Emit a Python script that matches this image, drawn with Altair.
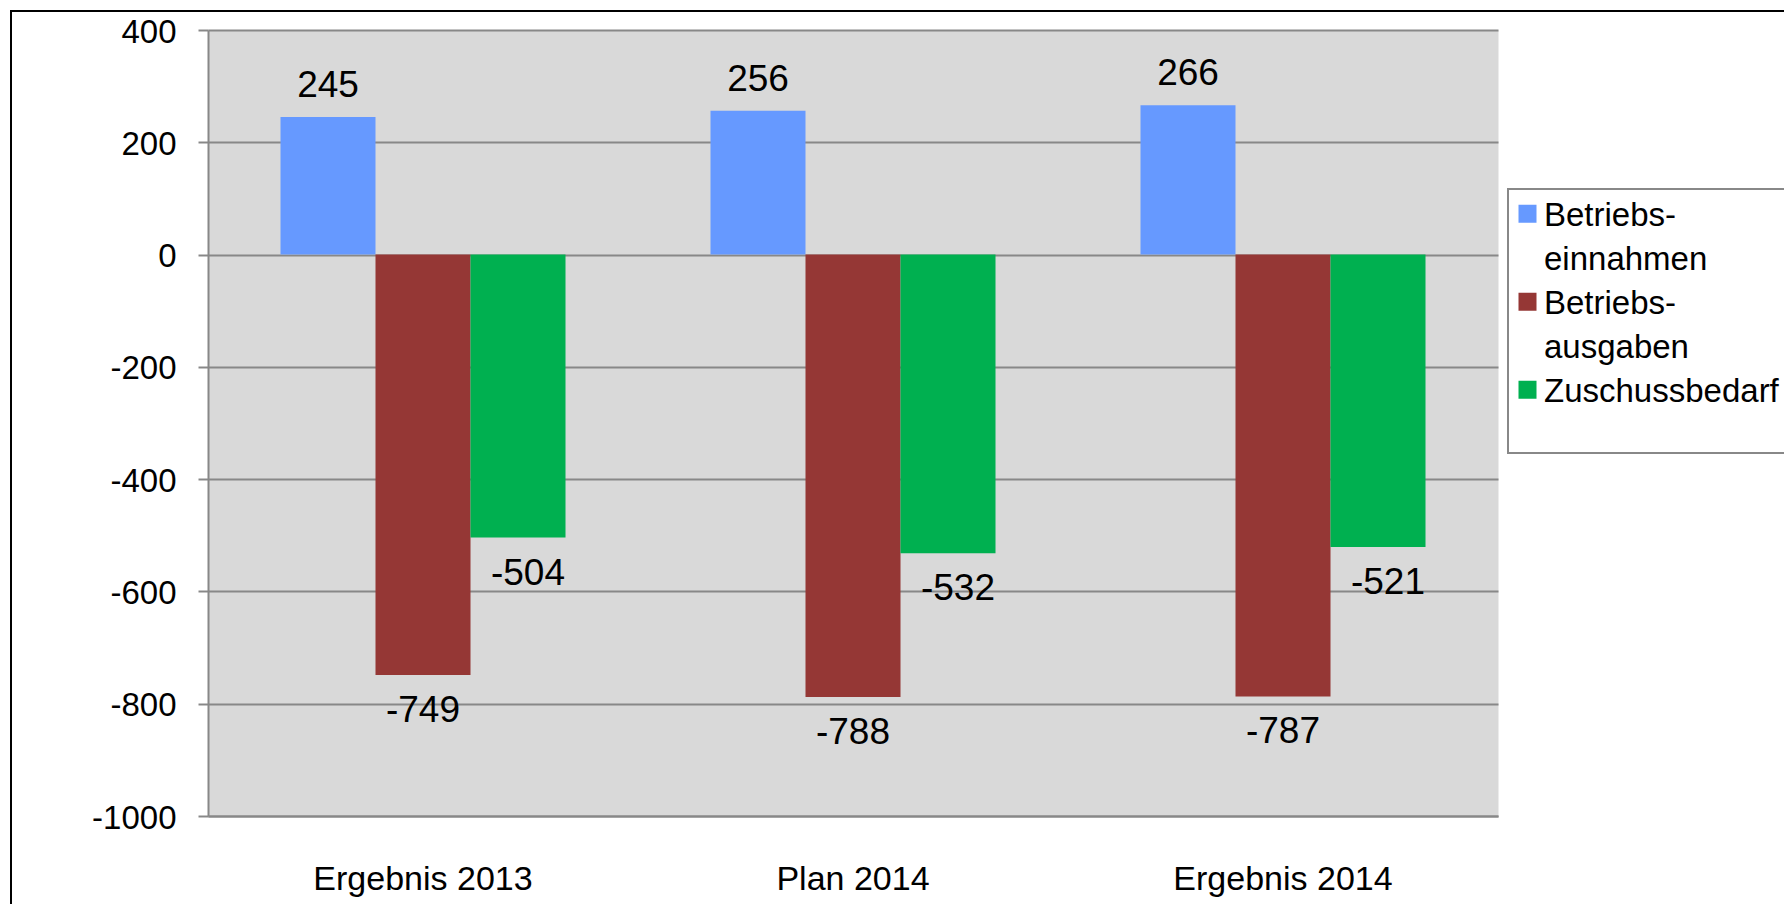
import altair as alt
import pandas as pd

CATEGORIES = ["Ergebnis 2013", "Plan 2014", "Ergebnis 2014"]
SERIES = ["Betriebs-einnahmen", "Betriebs-ausgaben", "Zuschussbedarf"]
EINNAHMEN = [245, 256, 266]
AUSGABEN = [-749, -788, -787]
ZUSCHUSS = [-504, -532, -521]
COLORS = ["#6699FF", "#953735", "#00B050"]
Y_TICKS = [-1000, -800, -600, -400, -200, 0, 200, 400]

rows = []
for s, vals in zip(SERIES, [EINNAHMEN, AUSGABEN, ZUSCHUSS]):
    for c, v in zip(CATEGORIES, vals):
        rows.append({"Kategorie": c, "Reihe": s, "Wert": v, "Label": str(v)})
df = pd.DataFrame(rows)

FONT = "Liberation Sans"
GRAY = "#888888"

x = alt.X(
    "Kategorie:N", sort=CATEGORIES, title=None,
    scale=alt.Scale(paddingInner=0.3372, paddingOuter=0.1686),
    axis=alt.Axis(labelAngle=0, ticks=False, tickSize=0, labelPadding=46,
                  labelFontSize=34, labelFont=FONT, labelColor="black",
                  labelLimit=500, domainColor=GRAY, domainWidth=2, grid=False),
)
xo = alt.XOffset("Reihe:N", sort=SERIES, scale=alt.Scale(paddingInner=0, paddingOuter=0))
y = alt.Y(
    "Wert:Q", title=None,
    scale=alt.Scale(domain=[-1000, 400], nice=False),
    axis=alt.Axis(values=Y_TICKS, grid=True, gridColor=GRAY, gridWidth=2,
                  ticks=True, tickColor=GRAY, tickWidth=2, tickSize=10,
                  domainColor=GRAY, domainWidth=2, labelFont=FONT,
                  labelFontSize=33, labelColor="black", labelPadding=22,
                  labelOffset=2, labelExpr="'' + datum.value"),
)

# legend labels: split hyphenated names into two lines; the last entry gets an
# invisible wide second line so the legend box runs past the right edge
PAD_LINE = "\u200b" + "\u00a0" * 30 + "\u200b"
label_expr = (
    "indexof(datum.label, '-') > 0 ? "
    "[slice(datum.label, 0, indexof(datum.label, '-') + 1), "
    "slice(datum.label, indexof(datum.label, '-') + 1)] : "
    "[datum.label, '" + PAD_LINE + "']"
)

color = alt.Color(
    "Reihe:N", sort=SERIES,
    scale=alt.Scale(domain=SERIES, range=COLORS),
    legend=alt.Legend(
        title=None, orient="none", legendX=1300, legendY=159,
        labelFont=FONT, labelFontSize=33, labelColor="black", labelLimit=900,
        labelExpr=label_expr, labelOffset=0, labelBaseline="bottom",
        symbolType="M-1,-3.11H1V-1.11H-1Z", symbolSize=324, symbolOffset=3,
        symbolStrokeWidth=0, rowPadding=0, padding=0, clipHeight=87.5,
        strokeColor=GRAY, fillColor="white",
    ),
)

base = alt.Chart(df)

bars = base.mark_bar().encode(x=x, xOffset=xo, y=y, color=color)

pos_text = base.transform_filter("datum.Wert >= 0").mark_text(
    font=FONT, fontSize=37, color="black", baseline="alphabetic", dy=-20
).encode(x=x, xOffset=xo, y=y, text="Label:N")

neg_text = base.transform_filter(
    "datum.Wert < 0 && datum.Reihe != 'Zuschussbedarf'"
).mark_text(
    font=FONT, fontSize=37, color="black", baseline="alphabetic", dy=47
).encode(x=x, xOffset=xo, y=y, text="Label:N")

green_text = base.transform_filter("datum.Reihe == 'Zuschussbedarf'").mark_text(
    font=FONT, fontSize=37, color="black", baseline="alphabetic", dy=47, dx=10
).encode(x=x, xOffset=xo, y=y, text="Label:N")

frame = alt.Chart(pd.DataFrame({"f": [0]})).mark_rect(
    fillOpacity=0, stroke="black", strokeWidth=2
).encode(x=alt.value(-197), x2=alt.value(2000), y=alt.value(-19), y2=alt.value(1000))

chart = alt.layer(
    frame, bars, pos_text, neg_text, green_text,
    view=alt.ViewBackground(fill="#d9d9d9", stroke="transparent"),
).properties(
    width=1290, height=786,
    autosize=alt.AutoSizeParams(type="none"),
    padding={"left": 200, "top": 22, "right": 286, "bottom": 88},
    background="white",
).configure(
    style={"guide-label": {"lineHeight": 44}}
).configure_legend(strokeWidth=2)

chart.save("out.html", embed_options={"renderer": "svg", "actions": False})
